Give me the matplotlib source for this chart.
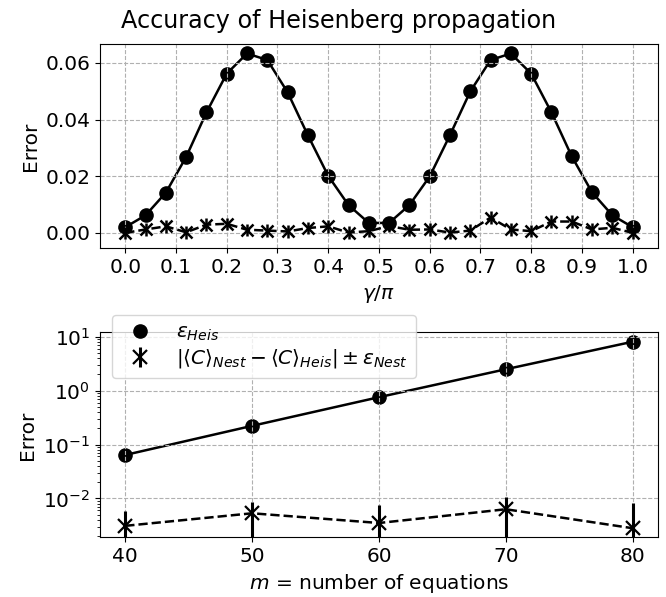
import numpy as np
import matplotlib
matplotlib.use("Agg")
import matplotlib.pyplot as plt
from matplotlib.lines import Line2D

# Top panel data
gamma = [0.00, 0.04, 0.08, 0.12, 0.16, 0.20, 0.24, 0.28, 0.32, 0.36, 0.40, 0.44, 0.48,
         0.52, 0.56, 0.60, 0.64, 0.68, 0.72, 0.76, 0.80, 0.84, 0.88, 0.92, 0.96, 1.00]
err_heis = [0.0020, 0.0062, 0.0142, 0.0268, 0.0425, 0.0562, 0.0633, 0.0610, 0.0496,
            0.0344, 0.0201, 0.0098, 0.0035, 0.0035, 0.0098, 0.0199, 0.0345, 0.0499,
            0.0610, 0.0633, 0.0562, 0.0425, 0.0270, 0.0143, 0.0062, 0.0020]
diff_nest = [0.0000, 0.0012, 0.0023, 0.0002, 0.0029, 0.0032, 0.0011, 0.0008, 0.0005,
             0.0017, 0.0023, 0.0001, 0.0006, 0.0024, 0.0011, 0.0012, 0.0001, 0.0008,
             0.0054, 0.0012, 0.0006, 0.0040, 0.0040, 0.0012, 0.0018, 0.0000]
diff_nest_err = [0.0022] * len(gamma)

# Bottom panel data
m_eq = [40, 50, 60, 70, 80]
eps_heis = [0.064, 0.222, 0.755, 2.49, 8.07]
diff_m = [0.0031, 0.0053, 0.0035, 0.0063, 0.0028]
diff_m_err = [0.0028, 0.0034, 0.0040, 0.0044, 0.0055]

plt.rcParams['font.size'] = 14.5
fig, (ax1, ax2) = plt.subplots(2, 1, figsize=(6.66, 5.97), dpi=100)
fig.subplots_adjust(left=0.15, right=0.988, top=0.927, bottom=0.1, hspace=0.41)

# top
ax1.plot(gamma, err_heis, '-', color='black', lw=1.8, marker='o', ms=9.5, zorder=1)
ax1.plot(gamma, diff_nest, '--', color='black', lw=1.8, zorder=2)
ax1.errorbar(gamma, diff_nest, yerr=diff_nest_err, fmt='x', color='black',
             ms=9, mew=1.8, elinewidth=1.8, zorder=2)
ax1.set_xticks(np.arange(0, 1.01, 0.1))
ax1.set_yticks([0.0, 0.02, 0.04, 0.06])
ax1.set_xlim(-0.05, 1.05)
ax1.set_ylim(-0.0055, 0.0668)
ax1.set_xlabel(r'$\gamma/\pi$')
ax1.set_ylabel('Error')
ax1.grid(True, ls='--', color='#b0b0b0')

# bottom
ax2.plot(m_eq, eps_heis, '-', color='black', lw=1.8, marker='o', ms=9.5, zorder=1)
ax2.plot(m_eq, diff_m, '--', color='black', lw=1.8, zorder=2)
eb = ax2.errorbar(m_eq, diff_m, yerr=diff_m_err, fmt='x', color='black',
                  ms=10, mew=1.6, elinewidth=2.2, zorder=2)
ax2.set_yscale('log')
ax2.set_ylim(0.0019, 12)
ax2.set_xlim(38, 82)
ax2.set_xticks([40, 50, 60, 70, 80])
ax2.set_xlabel(r'$m$ = number of equations')
ax2.set_ylabel('Error')
ax2.grid(True, ls='--', color='#b0b0b0')

h_circ = Line2D([], [], ls='none', marker='o', color='black', ms=9.5)
ax2.legend([h_circ, eb], [r'$\varepsilon_{Heis}$',
                          r'$|\langle C\rangle_{Nest} - \langle C\rangle_{Heis}| \pm \varepsilon_{Nest}$'],
           loc='upper left', bbox_to_anchor=(0.01, 1.115), handletextpad=0.8,
           labelspacing=0.2, borderaxespad=0.3)

fig.suptitle('Accuracy of Heisenberg propagation', fontsize=17.2, x=0.508, y=0.985)

fig.savefig('out.png', dpi=100)
